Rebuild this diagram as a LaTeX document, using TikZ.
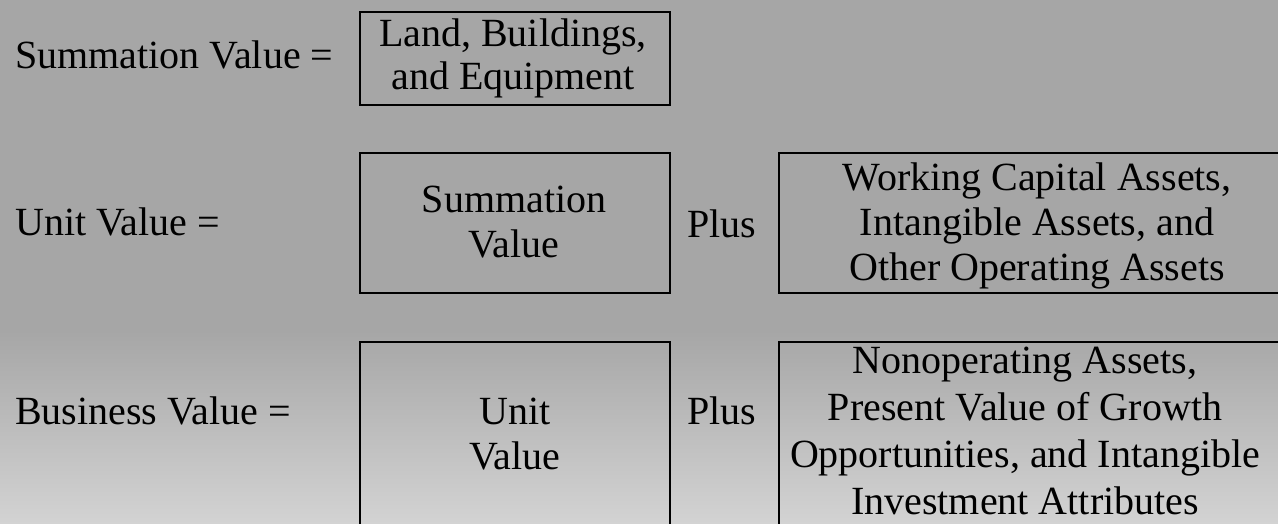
\documentclass[tikz,border=0pt]{standalone}
\usepackage{fontspec}
\setmainfont{Liberation Serif}
\definecolor{bgtop}{HTML}{A6A6A6}
\definecolor{bgbot}{HTML}{D3D3D3}
\tikzset{
  txt/.style={inner sep=0pt, anchor=base, font=\fontsize{40}{45}\selectfont, text=black},
  lbl/.style={txt, anchor=base west},
  boxnode/.style={draw=black, line width=2.3pt, inner sep=0pt, anchor=north west}
}
\begin{document}
\begin{tikzpicture}[x=1pt,y=-1pt]
\useasboundingbox (0,0) rectangle (1278,524);
\clip (0,0) rectangle (1278,524);
% background
\fill[bgtop] (0,0) rectangle (1278,331);
\shade[top color=bgtop, bottom color=bgbot] (0,330) rectangle (1278,524);
% row 1
\node[lbl] (sumlbl) at (15,69) {Summation Value =};
\node[boxnode, minimum width=310pt, minimum height=93pt] (b1) at (359,11) {};
\node[txt] (b1a) at (513,47) {Land, Buildings,};
\node[txt] (b1b) at (513,90) {and Equipment};
% row 2
\node[lbl] (unitlbl) at (15,236) {Unit Value =};
\node[boxnode, minimum width=310pt, minimum height=140pt] (b2) at (359,152) {};
\node[txt] (b2a) at (514,212) {Summation};
\node[txt] (b2b) at (514,257) {Value};
\node[txt] (plus1) at (722,237) {Plus};
\node[boxnode, minimum width=540pt, minimum height=140pt] (b3) at (778,152) {};
\node[txt] (b3a) at (1037,190) {Working Capital Assets,};
\node[txt] (b3b) at (1037,235) {Intangible Assets, and};
\node[txt] (b3c) at (1037,280) {Other Operating Assets};
% row 3
\node[lbl] (buslbl) at (15,424) {Business Value =};
\node[boxnode, minimum width=310pt, minimum height=240pt] (b4) at (359,341) {};
\node[txt] (b4a) at (515,424) {Unit};
\node[txt] (b4b) at (515,469) {Value};
\node[txt] (plus2) at (722,424) {Plus};
\node[boxnode, minimum width=540pt, minimum height=240pt] (b5) at (778,341) {};
\node[txt] (b5a) at (1025,373) {Nonoperating Assets,};
\node[txt] (b5b) at (1025,420) {Present Value of Growth};
\node[txt] (b5c) at (1025,467) {Opportunities, and Intangible};
\node[txt] (b5d) at (1025,514) {Investment Attributes};
\end{tikzpicture}
\end{document}
